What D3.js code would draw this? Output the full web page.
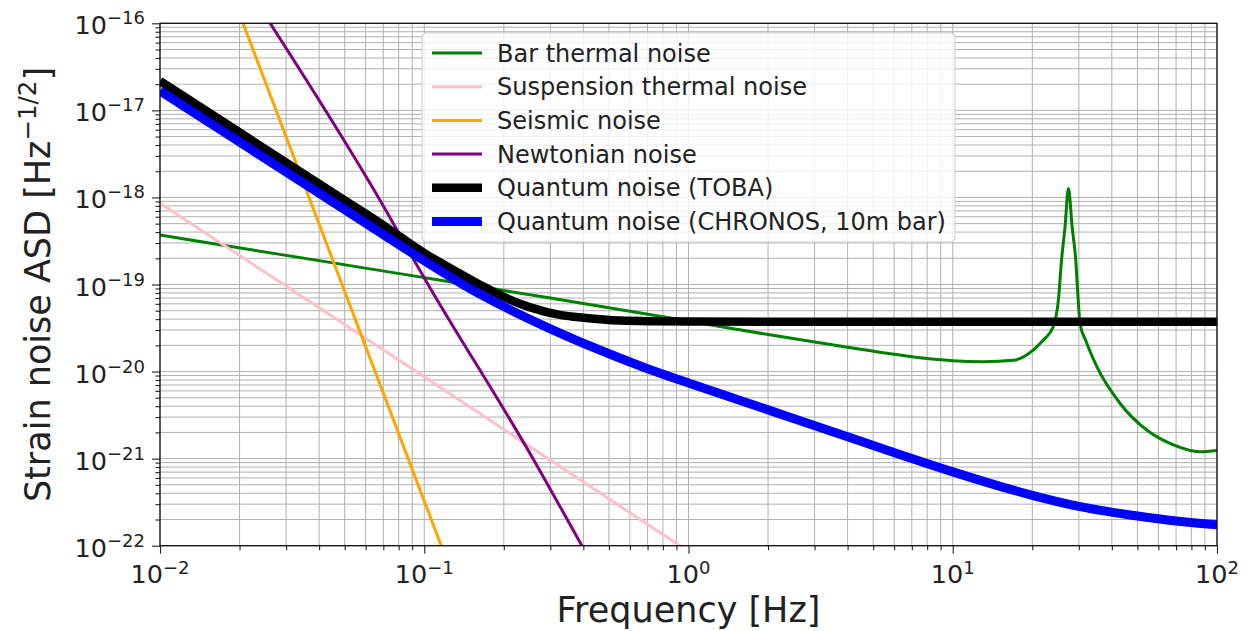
<!DOCTYPE html>
<html>
<head>
<meta charset="utf-8">
<script src="https://cdn.jsdelivr.net/npm/d3@7"></script>
<style>
  body { margin: 0; background: #fff; }
  svg { font-family: "DejaVu Sans", sans-serif; }
</style>
</head>
<body>
<script>
// values (frequency in Hz, ASD in 1/sqrt(Hz))
const barFreq = [0.01, 0.03, 0.1, 0.3, 1, 2, 4, 6, 8, 10, 13, 17, 20.2, 22, 24, 25.1, 25.8, 26.6, 27.4, 28.3, 29.2, 29.8, 30.3, 32, 35.1, 43, 54.2, 68.4, 86.3, 100];
const barASD = [3.7e-19, 2.16e-19, 1.2e-19, 6.98e-20, 3.8e-20, 2.66e-20, 1.9e-20, 1.58e-20, 1.41e-20, 1.33e-20, 1.3e-20, 1.35e-20, 1.77e-20, 2.3e-20, 3.27e-20, 6.6e-20, 1.9e-19, 4.6e-19, 1.27e-18, 4.6e-19, 1.9e-19, 7.0e-20, 3.6e-20, 2.2e-20, 1.14e-20, 4.3e-21, 2.13e-21, 1.44e-21, 1.2e-21, 1.24e-21];

const suspFreq = [0.01, 0.1, 1];
const suspASD = [8.6e-19, 8.7e-21, 8.6e-23];

const seisFreq = [0.02, 0.03, 0.05, 0.07, 0.1, 0.12];
const seisASD = [1.27e-16, 4.97e-18, 8.3e-20, 5.65e-21, 3.25e-22, 7.6e-23];

const newtFreq = [0.025, 0.068, 0.1, 0.258, 0.4];
const newtASD = [1.23e-16, 9.3e-19, 1.19e-19, 1.0e-21, 9.3e-23];

const tobaFreq = [0.01, 0.02, 0.03, 0.05, 0.07, 0.1, 0.13, 0.163, 0.2, 0.25, 0.33, 0.4, 0.55, 0.75, 1, 10, 100];
const tobaASD = [2.17e-17, 5.58e-18, 2.52e-18, 9.27e-19, 4.8e-19, 2.3e-19, 1.45e-19, 9.9e-20, 7.2e-20, 5.5e-20, 4.45e-20, 4.15e-20, 3.85e-20, 3.78e-20, 3.75e-20, 3.74e-20, 3.74e-20];

const chronosFreq = [0.01, 0.02, 0.05, 0.1, 0.15, 0.2, 0.3, 0.5, 0.7, 1, 2, 4, 10, 15, 20, 30, 50, 70, 100];
const chronosASD = [1.67e-17, 4.33e-18, 7.24e-19, 1.875e-19, 8.85e-20, 5.58e-20, 3.1e-20, 1.6e-20, 1.08e-20, 7.4e-21, 3.63e-21, 1.78e-21, 7.05e-22, 4.84e-22, 3.79e-22, 2.83e-22, 2.19e-22, 1.92e-22, 1.74e-22];

const xTicks = [1e-2, 1e-1, 1e0, 1e1, 1e2];
const xTickExp = ["\u22122", "\u22121", "0", "1", "2"];
const yTicks = [1e-22, 1e-21, 1e-20, 1e-19, 1e-18, 1e-17, 1e-16];
const yTickExp = ["\u221222", "\u221221", "\u221220", "\u221219", "\u221218", "\u221217", "\u221216"];

const series = [
  { name: "Bar thermal noise", f: barFreq, v: barASD, color: "#008000", w: 3 },
  { name: "Suspension thermal noise", f: suspFreq, v: suspASD, color: "#ffc0cb", w: 3 },
  { name: "Seismic noise", f: seisFreq, v: seisASD, color: "#ffa500", w: 3 },
  { name: "Newtonian noise", f: newtFreq, v: newtASD, color: "#800080", w: 3 },
  { name: "Quantum noise (TOBA)", f: tobaFreq, v: tobaASD, color: "#000000", w: 8.5 },
  { name: "Quantum noise (CHRONOS, 10m bar)", f: chronosFreq, v: chronosASD, color: "#0000ff", w: 9 }
];

const width = 1247, height = 631;
const pLeft = 160, pRight = 1217, pTop = 23.3, pBottom = 545.7;

const svg = d3.select("body").append("svg")
  .attr("width", width).attr("height", height);

const x = d3.scaleLog().domain([1e-2, 1e2]).range([pLeft, pRight]);
const y = d3.scaleLog().domain([1e-22, 1e-16]).range([pBottom, pTop]);

// minor ticks 2..9 in each decade
const minors = (lo, hi) => {
  const out = [];
  for (let e = lo; e < hi; e++) for (let k = 2; k <= 9; k++) out.push(k * Math.pow(10, e));
  return out;
};
const xMinor = minors(-2, 2);
const yMinor = minors(-22, -16);

// grid
const grid = svg.append("g").attr("stroke", "#b0b0b0").attr("stroke-width", 1);
xTicks.concat(xMinor).forEach(t => {
  grid.append("line").attr("x1", x(t)).attr("x2", x(t)).attr("y1", pTop).attr("y2", pBottom);
});
yTicks.concat(yMinor).forEach(t => {
  grid.append("line").attr("x1", pLeft).attr("x2", pRight).attr("y1", y(t)).attr("y2", y(t));
});

// curves
svg.append("clipPath").attr("id", "plot-clip")
  .append("rect").attr("x", pLeft).attr("y", pTop).attr("width", pRight - pLeft).attr("height", pBottom - pTop);

const line = d3.line().x(d => x(d[0])).y(d => y(d[1])).curve(d3.curveMonotoneX);

svg.append("g").attr("clip-path", "url(#plot-clip)")
  .selectAll("path")
  .data(series)
  .enter().append("path")
  .attr("d", s => line(s.f.map((f, i) => [f, s.v[i]])))
  .attr("fill", "none")
  .attr("stroke", s => s.color)
  .attr("stroke-width", s => s.w)
  .attr("stroke-linejoin", "round");

// axes
const xAxis = svg.append("g").attr("transform", `translate(0,${pBottom})`);
xAxis.call(d3.axisBottom(x).tickValues(xMinor).tickSize(4.5).tickFormat(""));
xAxis.append("g").call(d3.axisBottom(x).tickValues(xTicks).tickSize(8).tickFormat(""));
const yAxis = svg.append("g").attr("transform", `translate(${pLeft},0)`);
yAxis.call(d3.axisLeft(y).tickValues(yMinor).tickSize(4.5).tickFormat(""));
yAxis.append("g").call(d3.axisLeft(y).tickValues(yTicks).tickSize(8).tickFormat(""));
svg.selectAll(".domain").remove();
svg.selectAll(".tick line").attr("stroke", "#222").attr("stroke-width", 1.1);

svg.append("rect")
  .attr("x", pLeft).attr("y", pTop).attr("width", pRight - pLeft).attr("height", pBottom - pTop)
  .attr("fill", "none").attr("stroke", "#111").attr("stroke-width", 1.3);

// tick labels
xTicks.forEach((t, i) => {
  const txt = svg.append("text")
    .attr("x", x(t)).attr("y", 583)
    .attr("text-anchor", "middle")
    .style("font-size", "25.5px").attr("fill", "#222");
  txt.append("tspan").text("10");
  txt.append("tspan").attr("dy", -9.5).style("font-size", "18px").text(xTickExp[i]);
});
yTicks.forEach((t, i) => {
  const txt = svg.append("text")
    .attr("x", 145).attr("y", y(t) + 11)
    .attr("text-anchor", "end")
    .style("font-size", "25.5px").attr("fill", "#222");
  txt.append("tspan").text("10");
  txt.append("tspan").attr("dy", -10).style("font-size", "18px").text(yTickExp[i]);
});

// axis labels
svg.append("text")
  .attr("x", (pLeft + pRight) / 2).attr("y", 622)
  .attr("text-anchor", "middle")
  .style("font-size", "35px").attr("fill", "#222")
  .text("Frequency [Hz]");

const yl = svg.append("text")
  .attr("transform", `translate(50,${(pTop + pBottom) / 2}) rotate(-90)`)
  .attr("text-anchor", "middle")
  .style("font-size", "35px").attr("fill", "#222");
yl.append("tspan").text("Strain noise ASD [Hz");
yl.append("tspan").attr("dy", -14).style("font-size", "24.5px").text("\u22121/2");
yl.append("tspan").attr("dy", 14).text("]");

// legend
const legend = svg.append("g");
legend.append("rect")
  .attr("x", 422).attr("y", 33).attr("width", 533).attr("height", 209).attr("rx", 4)
  .attr("fill", "#fff").attr("fill-opacity", 0.8)
  .attr("stroke", "#cccccc").attr("stroke-width", 1);
series.forEach((s, i) => {
  const yy = 53 + i * 33.7;
  legend.append("line")
    .attr("x1", 432).attr("x2", 482).attr("y1", yy).attr("y2", yy)
    .attr("stroke", s.color).attr("stroke-width", s.w);
  legend.append("text")
    .attr("x", 497).attr("y", yy + 8.5)
    .style("font-size", "24px").attr("fill", "#222")
    .text(s.name);
});
</script>
</body>
</html>
